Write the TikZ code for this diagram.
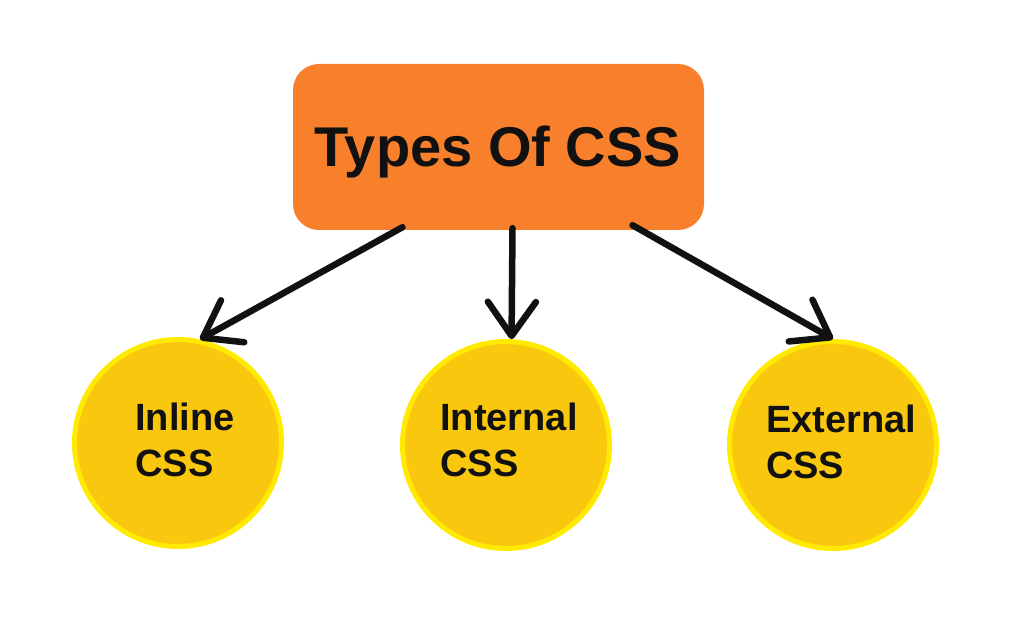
\documentclass[tikz,border=0pt]{standalone}
\usepackage{fontspec}
\setmainfont{Liberation Sans}
\usetikzlibrary{arrows.meta}
\definecolor{boxorange}{HTML}{F8802C}
\definecolor{circfill}{HTML}{F9C80E}
\definecolor{circedge}{HTML}{FFEA00}
\definecolor{ink}{HTML}{111111}
\tikzset{
  titlebox/.style={draw=none, fill=boxorange, rounded corners=26pt, minimum width=411pt, minimum height=166pt, inner sep=0pt},
  titletext/.style={inner sep=0pt, anchor=base, font=\bfseries\fontsize{56}{60}\selectfont, text=ink},
  circnode/.style={circle, fill=circfill, draw=circedge, line width=5pt, minimum size=207pt, inner sep=0pt},
  circtext/.style={inner sep=0pt, align=left, font=\bfseries\fontsize{38}{46}\selectfont, text=ink},
  conn/.style={draw=ink, line width=6.5pt, line cap=round, -{Straight Barb[length=34pt, width=48pt, round]}}
}
\begin{document}
\begin{tikzpicture}[x=1pt,y=-1pt]
\useasboundingbox (0,0) rectangle (1020,620);
\node[titlebox] (types) at (498.5,147) {};
\node[titletext] (typestext) at (498,167) {Types Of CSS};
\node[circnode] (inline) at (178,443) {};
\node[circnode] (internal) at (506,445) {};
\node[circnode] (external) at (833,445) {};
\node[circtext] (inlinet) at (185,440) {Inline\\CSS};
\node[circtext] (internalt) at (509,440) {Internal\\CSS};
\node[circtext] (externalt) at (841,442) {External\\CSS};
\draw[conn] ([xshift=-96pt,yshift=3pt]types.south) -- (inline.78);
\draw[conn] ([xshift=14pt,yshift=2pt]types.south) -- (internal.87);
\draw[conn] ([xshift=134pt,yshift=5pt]types.south) -- (external.north);
\end{tikzpicture}
\end{document}
